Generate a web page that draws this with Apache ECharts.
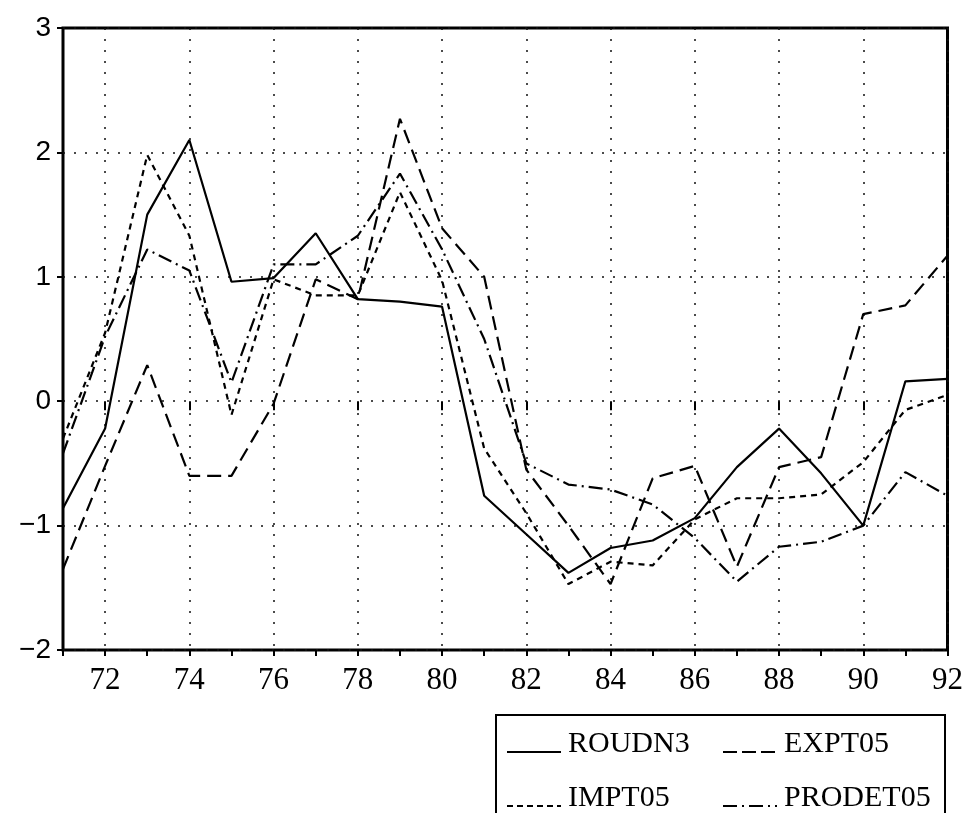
<!DOCTYPE html>
<html>
<head>
<meta charset="utf-8">
<script src="https://cdn.jsdelivr.net/npm/echarts@6/dist/echarts.min.js"></script>
<style>
html,body{margin:0;padding:0;background:#fff;}
#chart{width:966px;height:813px;}
</style>
</head>
<body>
<div id="chart"></div>
<script>
var years = ['71','72','73','74','75','76','77','78','79','80','81','82','83','84','85','86','87','88','89','90','91','92'];
var ROUDN3   = [-0.86,-0.22,1.50,2.10,0.96,0.99,1.35,0.82,0.80,0.76,-0.76,-1.07,-1.38,-1.18,-1.12,-0.94,-0.53,-0.22,-0.58,-1.00,0.16,0.18];
var EXPT05   = [-1.35,-0.52,0.29,-0.60,-0.60,-0.02,0.98,0.82,2.27,1.39,1.00,-0.55,-1.00,-1.47,-0.62,-0.52,-1.33,-0.53,-0.45,0.70,0.77,1.17];
var IMPT05   = [-0.30,0.55,1.98,1.33,-0.11,0.98,0.85,0.85,1.68,0.97,-0.38,-0.90,-1.47,-1.29,-1.32,-0.95,-0.78,-0.78,-0.75,-0.49,-0.07,0.05];
var PRODET05 = [-0.42,0.52,1.22,1.05,0.15,1.10,1.10,1.33,1.83,1.22,0.50,-0.50,-0.67,-0.71,-0.83,-1.10,-1.45,-1.17,-1.13,-1.00,-0.57,-0.76];
var seriesNames = ['ROUDN3','EXPT05','IMPT05','PRODET05'];
var yTicks = {min:-2, max:3, step:1};

var dashes = {ROUDN3:'solid', EXPT05:[14,7], IMPT05:[6,5], PRODET05:[14,5,2,5]};
var legendDashes = {ROUDN3:null, EXPT05:[14,5], IMPT05:[6,4], PRODET05:[14,5,2,5]};
var chart = echarts.init(document.getElementById('chart'), null, {renderer:'canvas'});
var evenYear = function(i, v){ return Number(v) % 2 === 0; };
var dotted = {type:[2,9], color:'#111', width:1.5};
function lineSeries(name, data){
  return {name:name, type:'line', data:data, xAxisIndex:0, symbol:'none', showSymbol:false,
    lineStyle:{color:'#000', width:2.2, type:dashes[name]}, itemStyle:{color:'#000'}, animation:false};
}

var legendCells = [
  {name:seriesNames[0], lx:507, ly:752},
  {name:seriesNames[1], lx:723, ly:752},
  {name:seriesNames[2], lx:507, ly:806},
  {name:seriesNames[3], lx:723, ly:806}
];
var graphics = [{type:'rect', shape:{x:496, y:715, width:449, height:120}, style:{fill:'none', stroke:'#000', lineWidth:2}, silent:true}];
legendCells.forEach(function(c){
  graphics.push({type:'line', silent:true, shape:{x1:c.lx, y1:c.ly, x2:c.lx+54, y2:c.ly},
    style:{stroke:'#000', lineWidth:2, lineDash:legendDashes[c.name]}});
  graphics.push({type:'text', silent:true, x:c.lx+61, y:c.ly+7,
    style:{text:c.name, fill:'#000', font:'30px "Liberation Serif"', verticalAlign:'bottom'}});
});

chart.setOption({
  animation:false,
  backgroundColor:'#fff',
  grid:{left:63, right:18, top:28, bottom:163, show:true, borderColor:'#000', borderWidth:3, containLabel:false},
  xAxis:[
    {type:'category', data:years, boundaryGap:false, position:'bottom',
     axisLine:{show:false},
     axisTick:{show:true, inside:false, length:9, interval:evenYear, lineStyle:{color:'#000', width:2}},
     axisLabel:{show:true, interval:evenYear, fontFamily:'Liberation Serif', fontSize:31, color:'#000', margin:15},
     splitLine:{show:true, interval:evenYear, lineStyle:dotted}},
    {type:'category', data:years, boundaryGap:false, position:'bottom',
     axisLine:{show:false},
     axisTick:{show:true, inside:false, length:6, interval:0, lineStyle:{color:'#000', width:2}},
     axisLabel:{show:false}, splitLine:{show:false}}
  ],
  yAxis:{type:'value', min:yTicks.min, max:yTicks.max, interval:yTicks.step,
    axisLine:{show:false},
    axisTick:{show:true, length:6, lineStyle:{color:'#000', width:2}},
    axisLabel:{fontFamily:'Liberation Sans', fontSize:28, color:'#000', margin:12,
      formatter:function(v){ return v < 0 ? '\u2212' + Math.abs(v) : String(v); }},
    splitLine:{show:true, lineStyle:dotted}},
  graphic:graphics,
  series:[
    lineSeries('ROUDN3', ROUDN3),
    lineSeries('EXPT05', EXPT05),
    lineSeries('IMPT05', IMPT05),
    lineSeries('PRODET05', PRODET05)
  ]
});
</script>
</body>
</html>
